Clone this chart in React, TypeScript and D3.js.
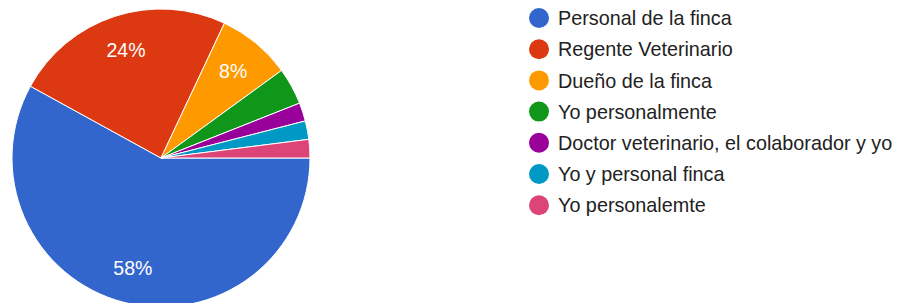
import React, { useEffect, useRef } from 'react';
import * as d3 from 'd3';

const categories = [
  'Personal de la finca',
  'Regente Veterinario',
  'Dueño de la finca',
  'Yo personalmente',
  'Doctor veterinario, el colaborador y yo',
  'Yo y personal finca',
  'Yo personalemte',
];
const counts = [29, 12, 4, 2, 1, 1, 1];
const colors = ['#3366cc', '#dc3912', '#ff9900', '#109618', '#990099', '#0099c6', '#dd4477'];

const width = 902;
const height = 303;

const App: React.FC = () => {
  const svgRef = useRef<SVGSVGElement | null>(null);

  useEffect(() => {
    if (!svgRef.current) return;
    const svg = d3.select(svgRef.current);
    svg.selectAll('*').remove();

    const cx = 161;
    const cy = 158;
    const radius = 149;
    const total = d3.sum(counts);

    const pie = d3
      .pie<number>()
      .sort(null)
      .value((d) => d)
      .startAngle(Math.PI / 2)
      .endAngle(Math.PI / 2 + 2 * Math.PI);

    const arc = d3.arc<d3.PieArcDatum<number>>().innerRadius(0).outerRadius(radius);
    const labelArc = d3
      .arc<d3.PieArcDatum<number>>()
      .innerRadius(radius * 0.76)
      .outerRadius(radius * 0.76);

    const g = svg.append('g').attr('transform', `translate(${cx},${cy})`);
    const arcs = pie(counts);

    g.selectAll('path')
      .data(arcs)
      .join('path')
      .attr('d', arc)
      .attr('fill', (_, i) => colors[i])
      .attr('stroke', '#ffffff')
      .attr('stroke-width', 1);

    // percentage labels only on the bigger slices
    g.selectAll('text')
      .data(arcs.filter((d) => d.data / total >= 0.05))
      .join('text')
      .attr('transform', (d) => `translate(${labelArc.centroid(d)})`)
      .attr('text-anchor', 'middle')
      .attr('dy', '0.36em')
      .style('font-family', 'Arial, "Liberation Sans", sans-serif')
      .style('font-size', '19.5px')
      .style('fill', '#ffffff')
      .text((d) => `${Math.round((d.data / total) * 100)}%`);

    // legend
    const legend = svg.append('g').attr('transform', 'translate(539,18)');
    const rowH = 31.2;
    const rows = legend
      .selectAll('g')
      .data(categories)
      .join('g')
      .attr('transform', (_, i) => `translate(0,${i * rowH})`);

    rows
      .append('circle')
      .attr('r', 10)
      .attr('fill', (_, i) => colors[i]);

    rows
      .append('text')
      .attr('x', 19)
      .attr('dy', '0.36em')
      .style('font-family', 'Arial, "Liberation Sans", sans-serif')
      .style('font-size', '19.8px')
      .style('fill', '#222222')
      .text((d) => d);
  }, []);

  return (
    <div style={{ position: 'absolute', left: 0, top: 0, width, height, overflow: 'hidden', background: '#fff' }}>
      <svg ref={svgRef} width={width} height={height}></svg>
    </div>
  );
};

export default App;
